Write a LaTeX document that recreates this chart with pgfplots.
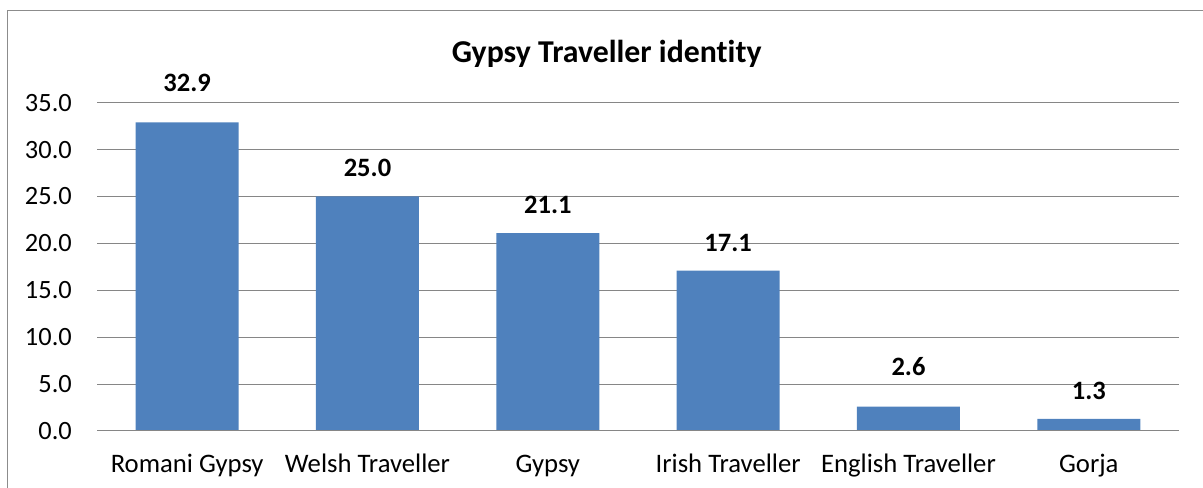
\documentclass[border=0pt]{standalone}
\usepackage{fontspec}
\setmainfont{Carlito}[Ligatures={NoCommon}]
\usepackage{pgfplots}
\pgfplotsset{compat=1.18}
\usepackage{pgfplotstable}
\definecolor{barblue}{HTML}{4F81BD}
\definecolor{gridgray}{HTML}{868686}
\definecolor{bordergray}{HTML}{8C8C8C}
\pgfplotstableread{
x y shift
0 32.9 31
1 25.0 20
2 21.1 20
3 17.1 19
4 2.6 31
5 1.3 19.5
}\datatable
\begin{document}
\begin{tikzpicture}[x=1bp,y=1bp]
\useasboundingbox (0,0) rectangle (1203,488);
\draw[bordergray, line width=1.3bp] (7.5,0) -- (7.5,477.5) -- (1203,477.5);
\node[font=\fontsize{31.8bp}{36bp}\selectfont\bfseries, anchor=base, inner sep=0] at (606.7,425.3) {Gypsy Traveller identity};
\begin{axis}[
  at={(97bp,57bp)}, anchor=south west,
  scale only axis, width=1082bp, height=328.3bp,
  xmin=-0.5, xmax=5.5, ymin=0, ymax=35,
  clip=false,
  ytick={0,5,...,35},
  xtick={0,...,5},
  xticklabels={Romani Gypsy, Welsh Traveller, Gypsy, Irish Traveller, English Traveller, Gorja},
  major tick length=0,
  ymajorgrids, grid style={gridgray, line width=1bp},
  axis line style={draw=none},
  /pgf/number format/assume math mode=true,
  yticklabel={\pgfmathprintnumber[fixed,fixed zerofill,precision=1]{\tick}},
  yticklabel style={font=\fontsize{26.4bp}{30bp}\selectfont, anchor=east, inner sep=0, xshift=-25bp},
  xticklabel style={font=\fontsize{26.7bp}{30bp}\selectfont, anchor=base, inner sep=0, yshift=-42bp},
]
\addplot[ybar, bar width=103bp, fill=barblue, draw=none,
  point meta=y,
  visualization depends on={\thisrow{shift}\as\myshift},
  nodes near coords={\pgfmathprintnumber[fixed,fixed zerofill,precision=1,assume math mode=true]{\pgfplotspointmeta}},
  every node near coord/.append style={font=\fontsize{26.5bp}{30bp}\selectfont\bfseries, anchor=base, inner sep=0, yshift=\myshift bp, black},
] table[x=x, y=y] {\datatable};
\draw[gridgray, line width=1bp] (rel axis cs:0,0) -- (rel axis cs:1,0);
\end{axis}
\end{tikzpicture}
\end{document}
